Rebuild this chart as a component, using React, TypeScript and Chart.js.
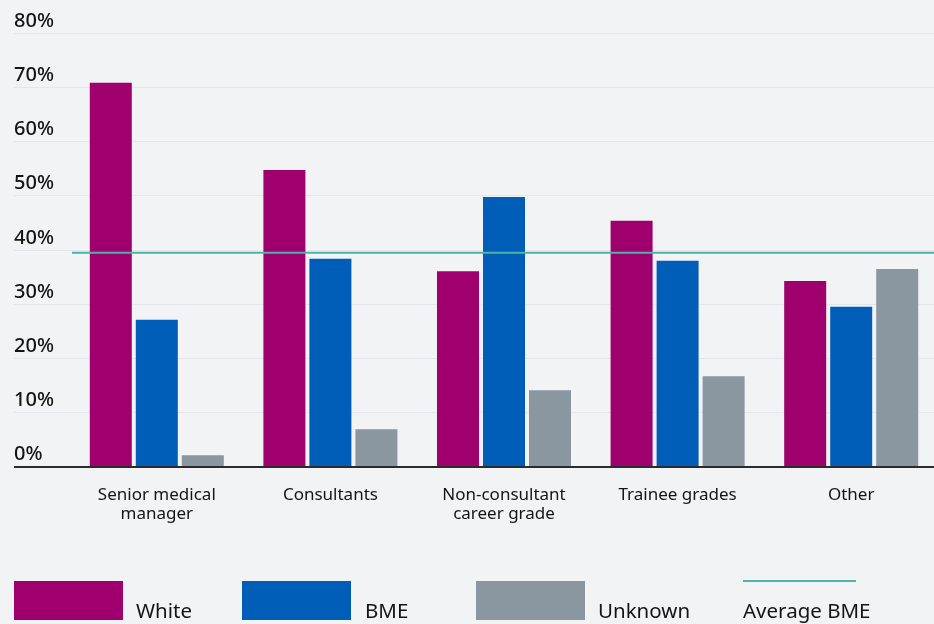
import React, { useEffect, useRef } from "react";
import { Chart, registerables } from "chart.js";

Chart.register(...registerables);

const categories: string[][] = [
  ["Senior medical", "manager"],
  ["Consultants"],
  ["Non-consultant", "career grade"],
  ["Trainee grades"],
  ["Other"],
];
const whiteValues = [70.8, 54.7, 36.0, 45.3, 34.2];
const bmeValues = [27.0, 38.3, 49.7, 37.9, 29.4];
const unknownValues = [2.0, 6.8, 14.0, 16.6, 36.4];
const averageBME = 39.4;
const yTicks = [0, 10, 20, 30, 40, 50, 60, 70, 80];
const seriesNames = ["White", "BME", "Unknown"];
const avgName = "Average BME";

const COLORS = {
  white: "#a0006e",
  bme: "#005eb8",
  unknown: "#8a96a0",
  avg: "#4cb3a9",
  bg: "#f2f3f5",
  grid: "#e3e6ea",
  text: "#141414",
  axis: "#2b2b2b",
};
const FONT = '"Noto Sans", "DejaVu Sans", sans-serif';

const customDraw = {
  id: "customDraw",
  beforeDatasetsDraw(chart: any) {
    const ctx = chart.ctx;
    const y = chart.scales.y;
    const x = chart.scales.x;
    ctx.save();
    ctx.font = `500 20px ${FONT}`;
    ctx.textAlign = "left";
    ctx.textBaseline = "alphabetic";
    yTicks.forEach((t) => {
      const py = Math.round(y.getPixelForValue(t)) + 0.5;
      if (t !== 0) {
        ctx.strokeStyle = COLORS.grid;
        ctx.lineWidth = 1;
        ctx.beginPath();
        ctx.moveTo(14, py);
        ctx.lineTo(934, py);
        ctx.stroke();
      }
      ctx.fillStyle = COLORS.text;
      ctx.fillText(`${t}%`, 14, py - 7);
    });
    ctx.font = `17px ${FONT}`;
    ctx.textAlign = "center";
    ctx.textBaseline = "middle";
    categories.forEach((lines, i) => {
      const px = x.getPixelForValue(i);
      lines.forEach((ln, j) => {
        ctx.fillText(ln, px, 495 + j * 19);
      });
    });
    ctx.restore();
  },
  afterDatasetsDraw(chart: any) {
    const ctx = chart.ctx;
    const y = chart.scales.y;
    const area = chart.chartArea;
    ctx.save();
    const ay = y.getPixelForValue(averageBME);
    ctx.strokeStyle = COLORS.avg;
    ctx.lineWidth = 2;
    ctx.beginPath();
    ctx.moveTo(area.left + 2, ay);
    ctx.lineTo(934, ay);
    ctx.stroke();
    const by = y.getPixelForValue(0);
    ctx.strokeStyle = COLORS.axis;
    ctx.lineWidth = 2;
    ctx.beginPath();
    ctx.moveTo(14, by + 1);
    ctx.lineTo(934, by + 1);
    ctx.stroke();
    const boxes = [
      { x: 14, tx: 136, c: COLORS.white, name: seriesNames[0] },
      { x: 242, tx: 365, c: COLORS.bme, name: seriesNames[1] },
      { x: 476, tx: 598, c: COLORS.unknown, name: seriesNames[2] },
    ];
    ctx.font = `20.5px ${FONT}`;
    ctx.textAlign = "left";
    ctx.textBaseline = "alphabetic";
    boxes.forEach((b) => {
      ctx.fillStyle = b.c;
      ctx.fillRect(b.x, 581, 109, 39);
      ctx.fillStyle = COLORS.text;
      ctx.fillText(b.name, b.tx, 618);
    });
    ctx.strokeStyle = COLORS.avg;
    ctx.lineWidth = 2;
    ctx.beginPath();
    ctx.moveTo(743, 581);
    ctx.lineTo(856, 581);
    ctx.stroke();
    ctx.fillStyle = COLORS.text;
    ctx.fillText(avgName, 743, 618);
    ctx.restore();
  },
};

export default function App() {
  const ref = useRef<HTMLCanvasElement | null>(null);
  useEffect(() => {
    if (!ref.current) return;
    const chart = new Chart(ref.current, {
      type: "bar",
      data: {
        labels: categories.map((c) => c.join(" ")),
        datasets: [
          { label: seriesNames[0], data: whiteValues, backgroundColor: COLORS.white },
          { label: seriesNames[1], data: bmeValues, backgroundColor: COLORS.bme },
          { label: seriesNames[2], data: unknownValues, backgroundColor: COLORS.unknown },
        ],
      },
      options: {
        responsive: false,
        animation: false,
        devicePixelRatio: 1,
        categoryPercentage: 0.795,
        barPercentage: 0.913,
        layout: { padding: { left: 70, right: 0, top: 33, bottom: 158 } },
        plugins: { legend: { display: false }, tooltip: { enabled: false } },
        scales: {
          x: { display: false, offset: true, grid: { display: false } },
          y: { display: false, min: 0, max: 80 },
        },
      },
      plugins: [customDraw],
    });
    return () => chart.destroy();
  }, []);
  return (
    <div
      style={{
        position: "fixed",
        left: 0,
        top: 0,
        width: 934,
        height: 624,
        overflow: "hidden",
        background: COLORS.bg,
      }}
    >
      <canvas ref={ref} width={938} height={624} style={{ width: 938, height: 624, display: "block" }} />
    </div>
  );
}
